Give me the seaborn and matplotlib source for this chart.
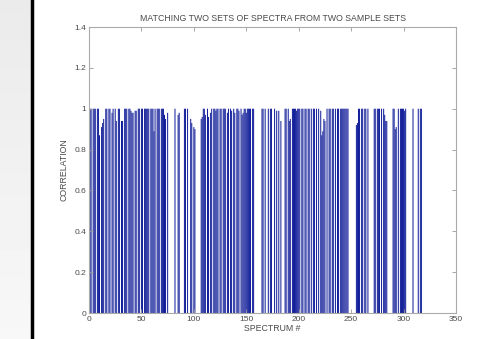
import numpy as np
import pandas as pd
import seaborn as sns
import matplotlib.pyplot as plt
from matplotlib.lines import Line2D
from matplotlib.ticker import FormatStrFormatter

# correlation of each matched spectrum (0 = no match), spectra 1..318
corr_1_70 = [1, 1, 0, 1, 1, 1, 0, 1, 1, 0.87,
             0, 0.91, 0.93, 0.95, 0, 1, 1, 0, 1, 1,
             0, 0.98, 1, 0, 1, 0.94, 0, 1, 1, 0,
             0.94, 0.94, 0, 1, 1, 1, 0, 1, 1, 0.99,
             0.98, 0.98, 0, 0.99, 0.99, 0, 1, 1, 0, 1,
             1, 0, 1, 1, 1, 1, 1, 0, 1, 1,
             1, 0.89, 1, 0, 1, 1, 1, 0, 1, 1]
corr_71_160 = [1, 0.97, 0.95, 0, 0.98, 0, 0, 0, 0, 0,
               0, 1, 0, 0, 0.97, 0.98, 0, 0, 0, 0,
               1, 1, 0, 1, 0, 0, 0.95, 0.93, 0, 0.91,
               0.90, 0, 0, 0, 0, 0, 0.95, 0.96, 1, 1,
               0.97, 0, 1, 0.96, 0, 0.98, 1, 0, 1, 1,
               0.99, 1, 1, 0, 1, 1, 0, 1, 1, 1,
               0, 0.98, 1, 0, 1, 0.99, 0, 1, 0.98, 0,
               1, 1, 0.99, 0, 1, 0.97, 0.98, 1, 1, 0.98,
               1, 1, 1, 1, 0, 1, 1, 0, 0, 0]
corr_161_250 = [0, 0, 0, 0, 1, 1, 0, 1, 0, 0,
                1, 0, 1, 1, 0, 0, 1, 0, 0.99, 0,
                0.99, 0, 0.94, 0, 0, 0, 1, 1, 0, 1,
                0.94, 0.95, 0, 1, 1, 1, 1, 0.99, 1, 1,
                1, 0, 1, 1, 0, 1, 1, 0, 1, 1,
                0, 1, 0, 1, 1, 0, 1, 0, 1, 0,
                0.99, 0.87, 0.89, 0.95, 0.94, 0, 1, 0, 1, 1,
                0, 1, 1, 0, 1, 0, 1, 1, 0, 1,
                1, 1, 1, 1, 1, 1, 1, 0, 0, 0]
corr_251_318 = [0, 0, 0, 0, 0.92, 0.93, 1, 1, 0, 1,
                1, 0, 1, 1, 0, 1, 0, 0, 0, 0,
                0, 1, 1, 0, 1, 1, 1, 0, 1, 0,
                1, 0.97, 0.94, 0.94, 0, 0, 0, 0, 0, 1,
                1, 0.90, 0.91, 0, 1, 0, 1, 1, 1, 1,
                0.99, 1, 0, 0, 0, 0, 0, 0, 1, 0,
                0, 0, 0, 1, 0, 1, 1, 0]

correlation = corr_1_70 + corr_71_160 + corr_161_250 + corr_251_318
spectrum = np.arange(1, len(correlation) + 1)
df = pd.DataFrame({'spectrum': spectrum, 'correlation': correlation})

plt.rcParams['font.family'] = ['Liberation Sans', 'DejaVu Sans']
txt_col = '#4a4a4a'

fig = plt.figure(figsize=(4.86, 3.39), dpi=100)
fig.patch.set_facecolor('white')

# grey slide strip on the left + black border line
bg = fig.add_axes([0, 0, 31 / 486, 1])
grad = np.linspace(0.92, 0.97, 100).reshape(-1, 1)
bg.imshow(grad, cmap='gray', vmin=0, vmax=1, aspect='auto', extent=[0, 1, 0, 1])
bg.axis('off')
fig.add_artist(Line2D([32 / 486, 32 / 486], [0, 1], color='black', lw=2.5))

ax = fig.add_axes([89 / 486, 1 - 313 / 339, 367 / 486, 286 / 339])
sns.barplot(data=df, x='spectrum', y='correlation', native_scale=True,
            color='#101c98', saturation=1, width=0.95, errorbar=None,
            linewidth=0, ax=ax)
for p in ax.patches:
    p.set_snap(False)

ax.set_xlim(0, 350)
ax.set_ylim(0, 1.4)
ax.set_xticks(np.arange(0, 351, 50))
ax.set_yticks(np.arange(0, 1.41, 0.2))
ax.yaxis.set_major_formatter(FormatStrFormatter('%g'))
ax.tick_params(direction='in', length=3, width=0.6, colors='#999999',
               labelcolor=txt_col, labelsize=6, top=True, right=True, pad=2)
for s in ax.spines.values():
    s.set_color('#aaaaaa')
    s.set_linewidth(0.8)

ax.set_title('MATCHING TWO SETS OF SPECTRA FROM TWO SAMPLE SETS',
             fontsize=6.3, color=txt_col, pad=4)
ax.set_xlabel('SPECTRUM #', fontsize=6.3, color=txt_col, labelpad=1)
ax.set_ylabel('CORRELATION', fontsize=6.3, color=txt_col, labelpad=4)

fig.savefig('out.png', dpi=100)
